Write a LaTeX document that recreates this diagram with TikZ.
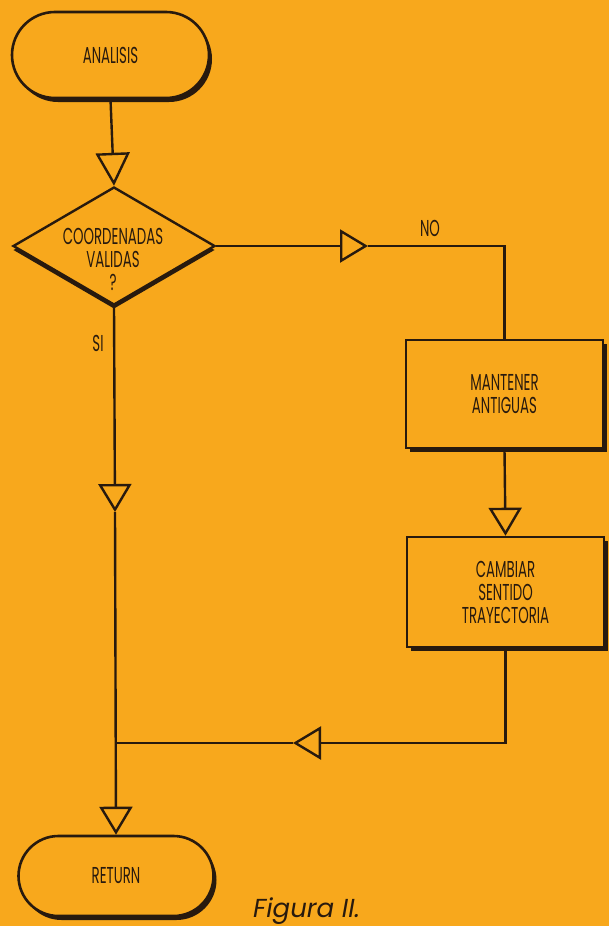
\documentclass[tikz,border=0pt]{standalone}
\usepackage{fontspec}
\setmainfont{Poppins}[FakeStretch=0.58]
\newfontfamily\figfont{Poppins}
\usetikzlibrary{shapes.misc,shapes.geometric,arrows.meta,shadows}
\definecolor{paper}{RGB}{248,168,28}
\definecolor{ink}{RGB}{40,26,14}
\begin{document}
\begin{tikzpicture}[x=1pt,y=-1pt,
  txt/.style={font=\fontsize{23}{23}\selectfont, text=ink, align=center},
  term/.style={rounded rectangle, draw=ink, line width=2.6pt, fill=paper,
    minimum width=197pt, minimum height=86pt, inner sep=0pt,
    general shadow={fill=ink, shadow xshift=3pt, shadow yshift=-4pt}, txt},
  proc/.style={rectangle, draw=ink, line width=2.6pt, fill=paper,
    minimum width=197pt, minimum height=108pt, inner sep=0pt,
    general shadow={fill=ink, shadow xshift=4pt, shadow yshift=-4pt}, txt},
  decis/.style={diamond, draw=ink, line width=2.4pt, fill=paper,
    minimum width=202pt, minimum height=118pt, inner sep=0pt,
    general shadow={fill=ink, shadow yshift=-4pt}},
  flow/.style={draw=ink, line width=2.4pt},
  tip/.style={-{Triangle[open, length=28pt, width=33pt]}}
]
\fill[paper] (0,0) rectangle (609,926);
\useasboundingbox (0,0) rectangle (609,926);

\node[term] (ana) at (110.5,55) {ANALISIS};
\node[decis] (dec) at (114,246) {};
\node[txt] (dectxt) at (113,259) {COORDENADAS\\VALIDAS\\?};
\node[proc] (keep) at (504.5,394) {MANTENER\\ANTIGUAS};
\node[proc, minimum height=110pt] (chg) at (505.5,592) {CAMBIAR\\SENTIDO\\TRAYECTORIA};
\node[term, minimum width=195pt, minimum height=80pt] (ret) at (116,876) {RETURN};

\node[txt] (no) at (430,228) {NO};
\node[txt] (si) at (98,343) {SI};
\node[anchor=base west, inner sep=0pt, text=ink,
  font=\figfont\itshape\fontsize{26}{30}\selectfont] (fig) at (253,917) {Figura II.};

\coordinate (n1) at (368,246);
\coordinate (s1) at (115,512);
\coordinate (r1) at (293,743);

\draw[flow, -{Triangle[open, length=33pt, width=34pt]}] (ana.south) -- (dec.north);
\draw[flow, tip] (dec.east) -- (n1);
\draw[flow] (n1) -| (keep.north);
\draw[flow, tip] (keep.south) -- (chg.north);
\draw[flow, tip] (chg.south) |- (r1);
\draw[flow] (r1) -- (r1 -| ret.north);
\draw[flow, tip] (dec.south) -- (s1);
\draw[flow, tip] (s1) -- (ret.north);
\end{tikzpicture}
\end{document}
